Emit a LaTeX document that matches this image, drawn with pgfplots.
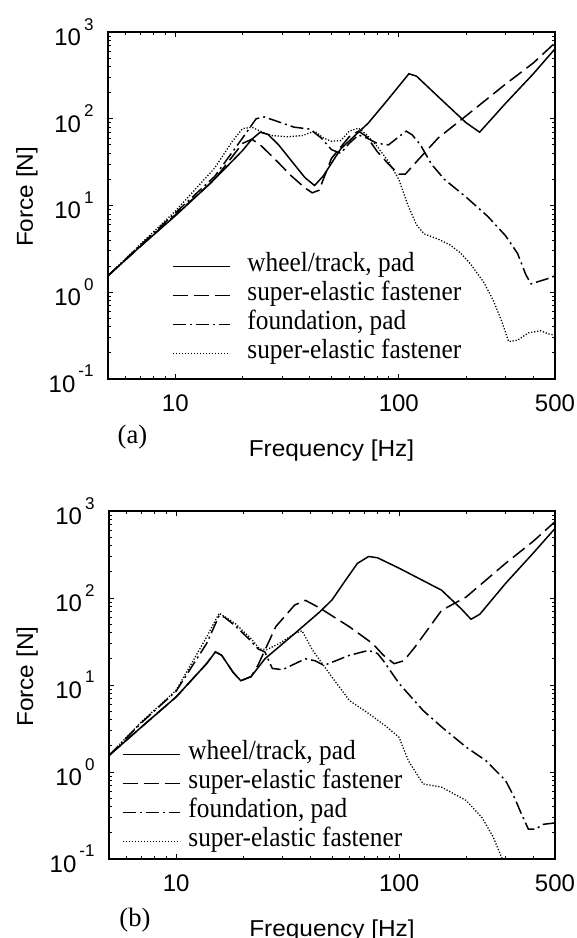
\documentclass[border=0pt]{standalone}
\usepackage{fontspec}
\setmainfont{Liberation Serif}
\newfontfamily\serifT{Liberation Serif}
\newfontfamily\sansT{Liberation Sans}
\newfontfamily\sansL{Liberation Sans}[FakeStretch=1.06]
\usepackage{pgfplots}
\pgfplotsset{compat=1.18}

\newcommand\ex[1]{10\hspace{3bp}\raisebox{15.5bp}{\fontsize{17bp}{17bp}\selectfont #1}}
\newcommand\tickfont{\sansT\fontsize{24bp}{28bp}\selectfont}
\newcommand\labfont{\sansL\fontsize{23bp}{27bp}\selectfont}
\newcommand\legfont{\serifT\fontsize{35bp}{40bp}\selectfont}
\newcommand\legtxt[1]{\scalebox{0.723}[0.79]{#1}}

\tikzset{
  s1/.style={black, line width=1.5bp},
  s2/.style={black, line width=1.5bp, dash pattern=on 15bp off 6bp},
  s3/.style={black, line width=1.5bp, dash pattern=on 13bp off 4bp on 2bp off 4bp},
  s4/.style={black, line width=1.3bp, dash pattern=on 1.2bp off 1.8bp},
}

\begin{document}
\begin{tikzpicture}
\useasboundingbox (0,0) rectangle (577bp,-938bp);

% ---------------- panel (a)
\begin{axis}[name=a, at={(108bp,-32bp)}, anchor=north west,
    scale only axis, width=447bp, height=347bp,
    xmode=log, ymode=log, xmin=5, xmax=500, ymin=0.1, ymax=1000,
    xtick={10,100,500}, xticklabels={10,100,500},
    minor xtick={6,7,8,9,20,30,40,50,60,70,80,90,200,300,400},
    ytick={0.1,1,10,100,1000},
    yticklabels={\ex{-1},\ex{0},\ex{1},\ex{2},\ex{3}},
    minor ytick={0.2,0.3,0.4,0.5,0.6,0.7,0.8,0.9,2,3,4,5,6,7,8,9,20,30,40,50,60,70,80,90,200,300,400,500,600,700,800,900},
    tick label style={font=\tickfont},
    xticklabel shift=12bp, yticklabel shift=11bp,
    label style={font=\labfont},
    axis line style={line width=1.5bp},
    major tick length=5bp, minor tick length=3bp,
    tick style={black, line width=0.8bp},
    xlabel={Frequency [Hz]}, ylabel={Force [N]},
    xlabel style={at={(rel axis cs:0.5,-0.223)}, anchor=base},
    ylabel style={at={(rel axis cs:-0.168,0.525)}, anchor=base},
    legend cell align=left,
    legend image code/.code={\draw[#1] (0bp,0bp) -- (57bp,0bp);},
    legend style={draw=none, fill=none, inner sep=0pt, outer sep=0pt,
      row sep=6bp, font=\legfont,
      nodes={inner sep=0pt, text height=17bp, text depth=6bp},
      /tikz/every odd column/.append style={column sep=17bp},
      at={(rel axis cs:0.143,0.358)}, anchor=north west},
    legend columns=1,
  ]
\addplot[s1] coordinates {(5,1.55) (7,3.4) (10,7.6) (14,17) (17,28) (20,43) (22,58) (24,70) (26,66) (29,50) (33,33) (38,21) (42,17) (46,22) (55,45) (73,89) (90,170) (111,330) (120,310) (150,180) (200,90) (230,70) (300,150) (400,330) (500,640)};
\addlegendentry{\legtxt{wheel/track, pad}}
\addplot[s2] coordinates {(5,1.55) (7,3.4) (10,7.8) (15,20) (20,52) (22,58) (24,50) (28,34) (33,22) (38,16) (41,14) (44,15) (50,35) (60,62) (66,72) (72,62) (80,42) (90,30) (100,23) (107,23) (120,32) (150,60) (200,108) (300,250) (400,440) (500,750)};
\addlegendentry{\legtxt{super-elastic fastener}}
\addplot[s3] coordinates {(5,1.55) (7,3.5) (10,8.2) (15,21.6) (20,60) (23,100) (25,105) (28,95) (34,80) (40,76) (45,60) (50,44) (55,40) (60,52) (66,65) (72,60) (80,52) (90,50) (100,62) (108,72) (115,65) (125,50) (140,30) (160,20) (200,12.5) (250,7.5) (300,4.5) (340,2.8) (370,1.6) (390,1.25) (430,1.35) (470,1.45) (500,1.55)};
\addlegendentry{\legtxt{foundation, pad}}
\addplot[s4] coordinates {(5,1.55) (7,3.6) (10,8.6) (15,27) (18,55) (20,77) (22,80) (24,72) (27,64) (32,62) (37,64) (42,72) (46,60) (50,55) (55,56) (60,72) (66,78) (72,65) (80,48) (90,32) (100,20) (110,10) (120,6) (130,4.7) (150,4.1) (170,3.5) (190,2.8) (210,2.1) (240,1.3) (265,0.8) (290,0.45) (310,0.27) (340,0.28) (380,0.34) (430,0.36) (470,0.33) (500,0.32)};
\addlegendentry{\legtxt{super-elastic fastener}}
\end{axis}
\node[font=\legfont, xshift=24.5bp, yshift=-58bp] at (a.south west) {\scalebox{0.76}{(a)}};

% ---------------- panel (b)
\begin{axis}[name=b, at={(109bp,-511bp)}, anchor=north west,
    scale only axis, width=446bp, height=348bp,
    xmode=log, ymode=log, xmin=5, xmax=500, ymin=0.1, ymax=1000,
    xtick={10,100,500}, xticklabels={10,100,500},
    minor xtick={6,7,8,9,20,30,40,50,60,70,80,90,200,300,400},
    ytick={0.1,1,10,100,1000},
    yticklabels={\ex{-1},\ex{0},\ex{1},\ex{2},\ex{3}},
    minor ytick={0.2,0.3,0.4,0.5,0.6,0.7,0.8,0.9,2,3,4,5,6,7,8,9,20,30,40,50,60,70,80,90,200,300,400,500,600,700,800,900},
    tick label style={font=\tickfont},
    xticklabel shift=12bp, yticklabel shift=11bp,
    label style={font=\labfont},
    axis line style={line width=1.5bp},
    major tick length=5bp, minor tick length=3bp,
    tick style={black, line width=0.8bp},
    xlabel={Frequency [Hz]}, ylabel={Force [N]},
    xlabel style={at={(rel axis cs:0.5,-0.223)}, anchor=base},
    ylabel style={at={(rel axis cs:-0.170,0.524)}, anchor=base},
    legend cell align=left,
    legend image code/.code={\draw[#1] (0bp,0bp) -- (57bp,0bp);},
    legend style={draw=none, fill=none, inner sep=0pt, outer sep=0pt,
      row sep=6bp, font=\legfont,
      nodes={inner sep=0pt, text height=17bp, text depth=6bp},
      /tikz/every odd column/.append style={column sep=8bp},
      at={(rel axis cs:0.029,0.334)}, anchor=north west},
    legend columns=1,
  ]
\addplot[s1] coordinates {(5,1.55) (7,3.3) (10,7.3) (13.7,17.6) (15,24) (16,22) (18,14) (19.5,11.2) (21.7,12.5) (25,20) (34,39) (44,69) (50,95) (57.5,160) (65,250) (73,300) (80,290) (100,220) (155,123) (190,75) (210,57) (230,65) (300,147) (400,330) (500,630)};
\addlegendentry{\legtxt{wheel/track, pad}}
\addplot[s2] coordinates {(5,1.55) (7,3.3) (10,7.3) (13.7,17.6) (15,24) (16,22) (18,14) (19.5,11.2) (21.7,12.5) (23.3,17) (28,47) (34,83) (38,94) (44,77) (60,46.5) (76,30) (85,22) (95,17.6) (105,19) (118,27.5) (155,72) (200,103) (300,250) (400,450) (500,754)};
\addlegendentry{\legtxt{super-elastic fastener}}
\addplot[s3] coordinates {(5,1.55) (7,3.7) (10,8.5) (13.7,30) (15.6,63) (16.5,60) (18.4,48) (21.7,32) (23.3,26) (25,24) (27,15.5) (30,15) (34,17.5) (38,20) (42,19) (46,16.8) (52,19) (60,22) (73,25) (80,23) (85,19) (100,10.4) (128,5.1) (155,3.3) (200,1.93) (245,1.35) (300,0.8) (330,0.5) (350,0.35) (380,0.22) (410,0.22) (440,0.25) (500,0.26)};
\addlegendentry{\legtxt{foundation, pad}}
\addplot[s4] coordinates {(5,1.55) (7,3.8) (10,8.7) (13.7,35.6) (15.6,67) (18.4,51) (21.7,34) (23.7,26) (25.5,25.5) (29,30) (34,39) (36.7,42) (41,25) (50,12.3) (60,6.6) (73,4.7) (88,3.3) (100,2.5) (110,1.35) (128,0.73) (155,0.67) (200,0.47) (235,0.30) (264,0.18) (290,0.1) (320,0.05) (360,0.02)};
\addlegendentry{\legtxt{super-elastic fastener}}
\end{axis}
\node[font=\legfont, xshift=26bp, yshift=-60.7bp] at (b.south west) {\scalebox{0.76}{(b)}};
\end{tikzpicture}
\end{document}
